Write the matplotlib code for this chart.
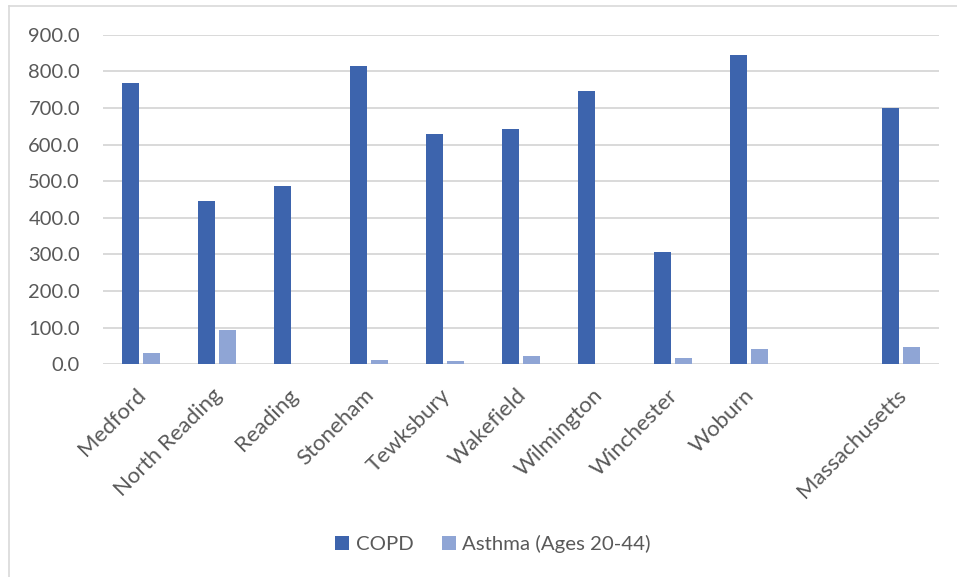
import matplotlib
matplotlib.use("Agg")
import matplotlib.pyplot as plt
from matplotlib.lines import Line2D
from matplotlib.transforms import ScaledTranslation
import numpy as np

# Rates per community
towns = ["Medford", "North Reading", "Reading", "Stoneham", "Tewksbury",
         "Wakefield", "Wilmington", "Winchester", "Woburn", "", "Massachusetts"]
copd = [768.0, 447.0, 488.0, 814.0, 628.0, 642.5, 747.0, 306.7, 843.8, np.nan, 700.8]
asthma = [31.0, 94.5, np.nan, 12.7, 9.0, 22.7, np.nan, 17.0, 41.8, np.nan, 48.0]
yticks = [0, 100, 200, 300, 400, 500, 600, 700, 800, 900]

COPD_COLOR = "#3D64AD"
ASTHMA_COLOR = "#8FA5D5"
TEXT_COLOR = "#595959"
GRID_COLOR = "#D9D9D9"

plt.rcParams["font.family"] = ["Lato", "DejaVu Sans"]

W, H = 957, 577
fig = plt.figure(figsize=(W / 100, H / 100), dpi=100)
ax = fig.add_axes([103 / W, 1 - 364.3 / H, (939 - 103) / W, (364.3 - 34.7) / H])

x = np.arange(len(towns))
bw = 0.22
off = 0.141
ax.bar(x - off, copd, width=bw, color=COPD_COLOR, label="COPD", zorder=3)
ax.bar(x + off, asthma, width=bw, color=ASTHMA_COLOR, label="Asthma (Ages 20-44)", zorder=3)

ax.set_xlim(-0.5, len(towns) - 0.5)
ax.set_ylim(0, 900)
ax.set_yticks(yticks)
ax.set_yticklabels([f"{v:.1f}" for v in yticks], fontsize=14.5, color=TEXT_COLOR)
ax.yaxis.grid(True, color=GRID_COLOR, linewidth=1.4, zorder=0)
ax.set_axisbelow(True)
ax.tick_params(axis="y", length=0, pad=16.5)
ax.tick_params(axis="x", length=0, pad=15)

ax.set_xticks(x)
ax.set_xticklabels(towns, rotation=45, ha="right", rotation_mode="anchor",
                   fontsize=16, color=TEXT_COLOR)
shift = ScaledTranslation(-5 / 100, 0, fig.dpi_scale_trans)
for lbl in ax.get_xticklabels():
    lbl.set_transform(lbl.get_transform() + shift)

for s in ax.spines.values():
    s.set_visible(False)

# Chart frame (top and left edges)
fig.add_artist(Line2D([8.5 / W, 8.5 / W], [0, 1 - 5.5 / H], color=GRID_COLOR,
                      linewidth=1.2, transform=fig.transFigure))
fig.add_artist(Line2D([8.5 / W, 1], [1 - 5.5 / H, 1 - 5.5 / H], color=GRID_COLOR,
                      linewidth=1.2, transform=fig.transFigure))

fig.legend(loc="center", bbox_to_anchor=(493 / W, 1 - 544 / H), ncol=2,
           frameon=False, fontsize=14.7, labelcolor=TEXT_COLOR,
           handlelength=0.7, handleheight=0.7, handletextpad=0.3,
           columnspacing=1.4)

fig.savefig("out.png", dpi=100, facecolor="white")
